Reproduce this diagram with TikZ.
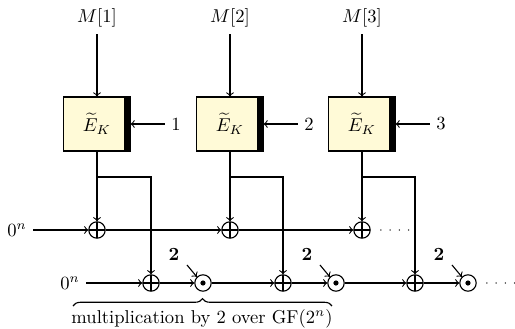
\documentclass[tikz,border=0pt]{standalone}
\usetikzlibrary{calc,decorations.pathreplacing}
\definecolor{boxfill}{RGB}{255,250,215}
\begin{document}
\begin{tikzpicture}[x=0.0189cm,y=-0.0189cm,semithick,>=to,
  every node/.style={font=\normalsize},
  tbc/.style={draw,fill=boxfill,minimum width=1.25cm,minimum height=1.02cm,inner sep=0pt},
  xorop/.style={circle,draw,inner sep=0pt,minimum size=0.31cm,
    path picture={\draw (path picture bounding box.north) -- (path picture bounding box.south)
      (path picture bounding box.west) -- (path picture bounding box.east);}},
  mulop/.style={circle,draw,inner sep=0pt,minimum size=0.31cm,
    path picture={\fill (path picture bounding box.center) circle (1.4pt);}}]
  \useasboundingbox (0,0) rectangle (515,329);
  % tweakable block cipher calls
  \foreach \i/\x in {1/97,2/230,3/362} {
    \node (m\i) at (\x,18) {$M[\i]$};
    \node[tbc] (e\i) at (\x,124) {$\widetilde{E}_K$};
    \fill ($(e\i.north east)+(-0.13cm,0)$) rectangle (e\i.south east);
    \draw (e\i.north west) rectangle (e\i.south east);
    \node (t\i) at (\x+79,124) {\i};
    \draw[->] (m\i) -- (e\i);
    \draw[->] (t\i) -- (e\i.east);
    \coordinate (b\i) at (\x,177);
  }
  % first row: plain xor
  \node (z1) at (17,230) {$0^n$};
  \node[xorop] (x1) at (97,230) {};
  \node[xorop] (x2) at (230,230) {};
  \node[xorop] (x3) at (362,230) {};
  \draw[->] (z1) -- (x1); \draw[->] (x1) -- (x2); \draw[->] (x2) -- (x3);
  \draw[dash pattern=on 0pt off 5pt,line cap=round,line width=0.8pt] ($(x3.east)+(0.19cm,0)$) -- ++(0.6cm,0);
  % second row: xor and doubling
  \node (z2) at (70,283) {$0^n$};
  \node[xorop] (y1) at (151,283) {};
  \node[xorop] (y2) at (283,283) {};
  \node[xorop] (y3) at (415,283) {};
  \node[mulop] (d1) at (203,283) {};
  \node[mulop] (d2) at (336,283) {};
  \node[mulop] (d3) at (468,283) {};
  \draw[->] (z2) -- (y1); \draw[->] (y1) -- (d1); \draw[->] (d1) -- (y2);
  \draw[->] (y2) -- (d2); \draw[->] (d2) -- (y3); \draw[->] (y3) -- (d3);
  \draw[dash pattern=on 0pt off 5pt,line cap=round,line width=0.8pt] ($(d3.east)+(0.19cm,0)$) -- ++(0.6cm,0);
  \foreach \i/\x in {1/203,2/336,3/468} {
    \node (k\i) at (\x-29,255) {$\mathbf{2}$};
    \draw[->] ($(k\i)+(13,10)$) -- (d\i.north west);
  }
  % outputs
  \draw[->] (e1) -- (x1); \draw[->] (b1) -| (y1);
  \draw[->] (e2) -- (x2); \draw[->] (b2) -| (y2);
  \draw[->] (e3) -- (x3); \draw[->] (b3) -| (y3);
  \coordinate (bl) at (73,306); \coordinate (br) at (332,306);
  \draw[decorate,decoration={brace,amplitude=4pt}] (bl) -- (br);
  \node (gf) at (202,319) {multiplication by 2 over GF$(2^n)$};
\end{tikzpicture}
\end{document}
